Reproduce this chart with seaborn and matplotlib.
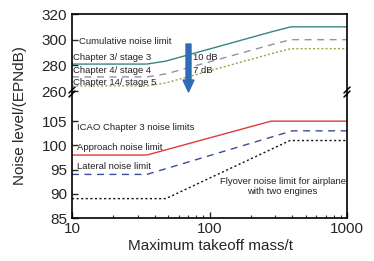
import matplotlib
matplotlib.use("Agg")
import matplotlib.pyplot as plt
import seaborn as sns
import pandas as pd
import numpy as np

# ---- data ----
mass_cum = [10, 35, 48.1, 280, 390, 1000]
chapter3 = [281, 281, 283.3, 306, 310, 310]
chapter4 = [271, 271, 273.3, 296, 300, 300]
chapter14 = [264, 264, 266.3, 289, 293, 293]

mass_app = [10, 35, 280, 1000]
approach = [98, 98, 105, 105]
mass_lat = [10, 35, 400, 1000]
lateral = [94, 94, 103, 103]
mass_fly = [10, 48.1, 385, 1000]
flyover = [89, 89, 101, 101]

top_ticks = [260, 280, 300, 320]
bottom_ticks = [85, 90, 95, 100, 105]
x_ticks = [10, 100, 1000]

sns.set_style("ticks")
plt.rcParams['font.family'] = ['Liberation Sans', 'DejaVu Sans']

W, H = 374, 261
fig = plt.figure(figsize=(W / 100, H / 100), dpi=100)
left, right = 72 / W, 347 / W
y_top, y_mid, y_bot = 1 - 14 / H, 1 - 95 / H, 1 - 218 / H
ax_t = fig.add_axes([left, y_mid, right - left, y_top - y_mid])
ax_b = fig.add_axes([left, y_bot, right - left, y_mid - y_bot], sharex=ax_t)

df_cum = pd.DataFrame({"m": mass_cum, "c3": chapter3, "c4": chapter4, "c14": chapter14})
sns.lineplot(data=df_cum, x="m", y="c3", ax=ax_t, color="#3c8383", lw=1.0)
sns.lineplot(data=df_cum, x="m", y="c4", ax=ax_t, color="#a08aa8", lw=1.0)
ax_t.lines[-1].set_dashes([5, 4])
sns.lineplot(data=df_cum, x="m", y="c14", ax=ax_t, color="#a6a24a", lw=1.0)
ax_t.lines[-1].set_dashes([1.5, 1.5])

sns.lineplot(x=mass_app, y=approach, ax=ax_b, color="#e03a3a", lw=1.0)
sns.lineplot(x=mass_lat, y=lateral, ax=ax_b, color="#3c4c9c", lw=1.0)
ax_b.lines[-1].set_dashes([5, 4])
sns.lineplot(x=mass_fly, y=flyover, ax=ax_b, color="#111111", lw=1.0)
ax_b.lines[-1].set_dashes([1.5, 1.8])

for ax in (ax_t, ax_b):
    ax.set_xscale("log")
    ax.set_xlim(10, 1000)
    ax.set_xlabel("")
    ax.set_ylabel("")
    for s in ax.spines.values():
        s.set_linewidth(1.2)
        s.set_color("black")
    ax.tick_params(axis="both", which="both", direction="in", labelsize=11)
    ax.tick_params(axis="both", which="major", length=4, width=1.0)
    ax.tick_params(axis="both", which="minor", length=2.5, width=0.8)

ax_t.set_ylim(256.9, 320)
ax_t.set_yticks(top_ticks)
ax_t.spines["bottom"].set_visible(False)
ax_t.tick_params(axis="x", which="both", bottom=False, labelbottom=False)

ax_b.set_ylim(85, 110.4)
ax_b.set_yticks(bottom_ticks)
ax_b.spines["top"].set_visible(False)
ax_b.set_xticks(x_ticks)
ax_b.set_xticklabels([str(v) for v in x_ticks])
ax_b.tick_params(axis="x", which="major", pad=3)

# break marks
for xf in (0.0, 1.0):
    for dy in (-4, 0):
        fig.add_artist(plt.Line2D([left + (xf * (right - left)) - 3 / W, left + (xf * (right - left)) + 3 / W],
                                  [1 - (97 + dy) / H, 1 - (91 + dy) / H],
                                  color="black", lw=1.1, transform=fig.transFigure))

# texts
fs = 6.8
tc = "#222222"
ax_t.text(11.2, 298.2, "Cumulative noise limit", fontsize=fs, va="center", ha="left", color=tc)
ax_t.text(10.2, 286.5, "Chapter 3/ stage 3", fontsize=fs, va="center", ha="left", color=tc)
ax_t.text(10.2, 275.6, "Chapter 4/ stage 4", fontsize=fs, va="center", ha="left", color=tc)
ax_t.text(10.2, 267, "Chapter 14/ stage 5", fontsize=fs, va="center", ha="left", color=tc)
ax_t.text(76, 286.5, "10 dB", fontsize=fs, va="center", ha="left", color=tc)
ax_t.text(76, 275.6, "7 dB", fontsize=fs, va="center", ha="left", color=tc)

ax_b.text(10.8, 103.6, "ICAO Chapter 3 noise limits", fontsize=fs, va="center", ha="left", color=tc)
ax_b.text(10.8, 99.6, "Approach noise limit", fontsize=fs, va="center", ha="left", color=tc)
ax_b.text(10.8, 95.7, "Lateral noise limit", fontsize=fs, va="center", ha="left", color=tc)
ax_b.text(340, 92.6, "Flyover noise limit for airplane", fontsize=fs, va="center", ha="center", color=tc)
ax_b.text(340, 90.4, "with two engines", fontsize=fs, va="center", ha="center", color=tc)

# blue arrow
fig.add_artist(matplotlib.patches.FancyArrow(
    188.5 / W, 1 - 44 / H, 0, -(92 - 44) / H, width=5 / W, head_width=11 / W,
    head_length=12 / H, length_includes_head=True, color="#2e6db3",
    transform=fig.transFigure))

fig.text(20 / W, 1 - 116 / H, "Noise level/(EPNdB)", rotation=90, fontsize=11,
         va="center", ha="center")
fig.text(210 / W, 1 - 246 / H, "Maximum takeoff mass/t", fontsize=11,
         va="center", ha="center")

fig.savefig("out.png", dpi=100)
